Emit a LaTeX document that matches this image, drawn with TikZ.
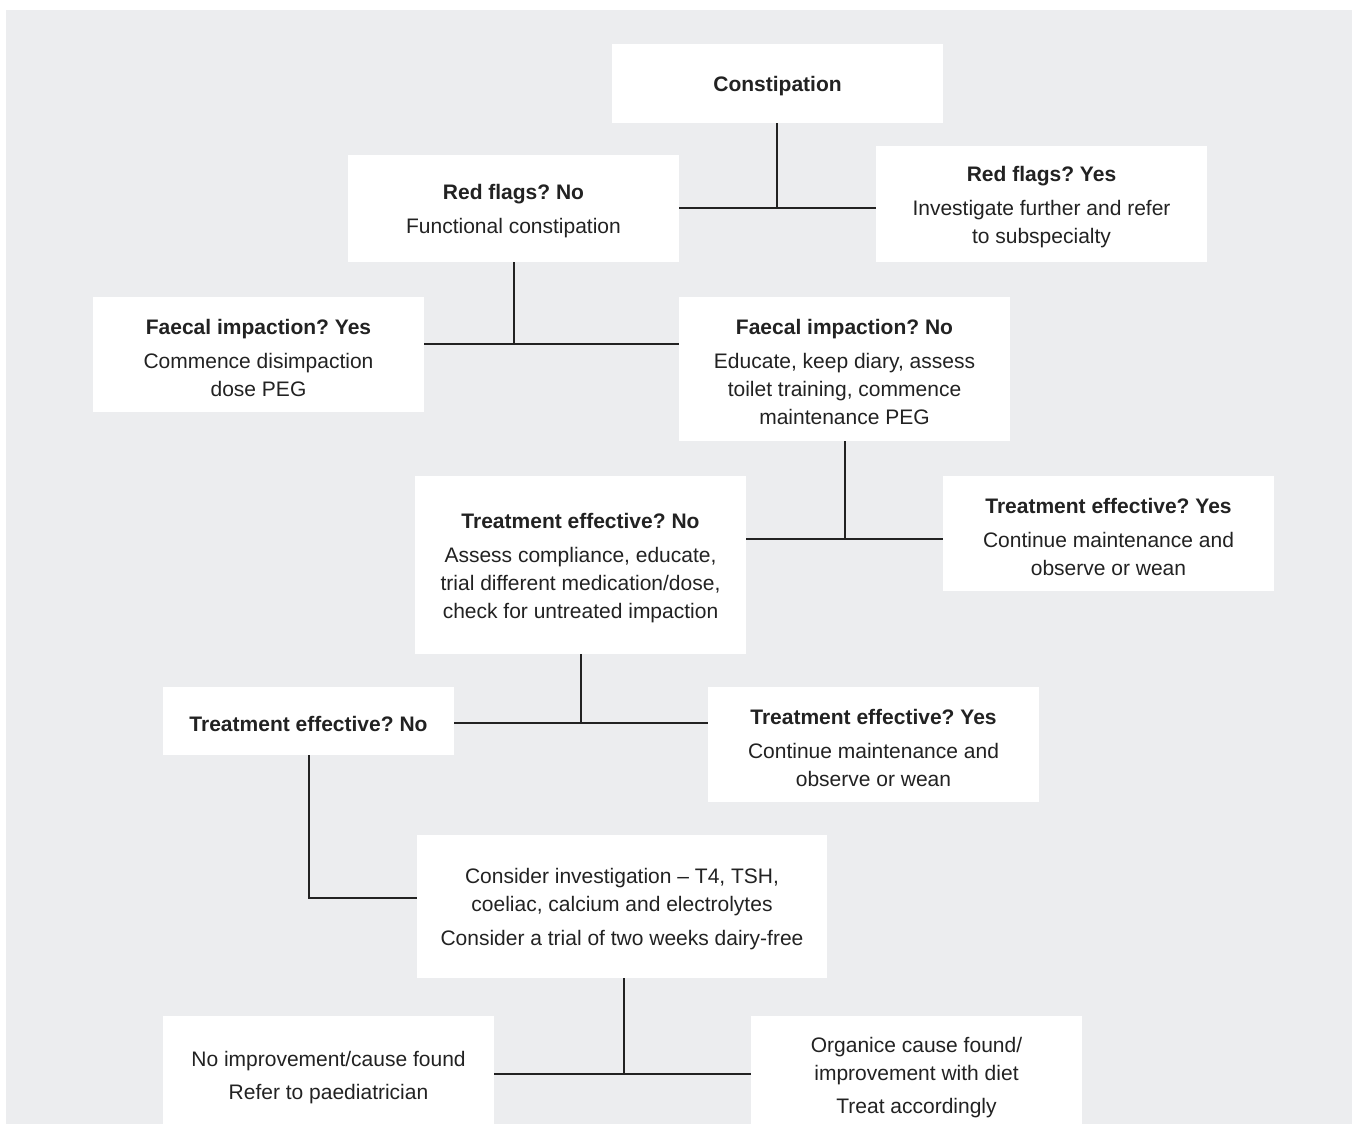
\documentclass[tikz,border=0pt]{standalone}
\usepackage{fontspec}
\setmainfont{Liberation Sans}
\frenchspacing
\definecolor{bggray}{HTML}{ECEDEF}
\definecolor{txt}{HTML}{222222}
\begin{document}
\begin{tikzpicture}[x=1pt,y=-1pt,
  box/.style={fill=white, inner sep=0pt},
  words/.style={inner sep=0pt, align=center, text=txt,
    font=\fontsize{21}{28}\selectfont},
  link/.style={draw=txt, line width=1.3pt}]
\useasboundingbox (0,0) rectangle (1352,1124);
\fill[bggray] (6,10) rectangle (1352,1124);

\node[box, minimum width=331, minimum height=79] (con) at (777.5,83.5) {};
\node[box, minimum width=331, minimum height=107] (rfn) at (513.5,208.5) {};
\node[box, minimum width=331, minimum height=116] (rfy) at (1041.5,204) {};
\node[box, minimum width=331, minimum height=115] (fiy) at (258.5,354.5) {};
\node[box, minimum width=331, minimum height=144] (fin) at (844.5,369) {};
\node[box, minimum width=331, minimum height=178] (ten1) at (580.5,565) {};
\node[box, minimum width=331, minimum height=115] (tey1) at (1108.5,533.5) {};
\node[box, minimum width=291, minimum height=68] (ten2) at (308.5,721) {};
\node[box, minimum width=331, minimum height=115] (tey2) at (873.5,744.5) {};
\node[box, minimum width=410, minimum height=143] (inv) at (622,906.5) {};
\node[box, minimum width=331, minimum height=117] (noi) at (328.5,1074.5) {};
\node[box, minimum width=331, minimum height=117] (org) at (916.5,1074.5) {};

\node[words] (tcon) at ([yshift=-3pt]con.center) {\textbf{Constipation}};
\node[words] (trfn) at ([yshift=-3pt]rfn.center) {\textbf{Red flags? No}\\[6pt]Functional constipation};
\node[words] (trfy) at ([yshift=-3pt]rfy.center) {\textbf{Red flags? Yes}\\[6pt]Investigate further and refer\\to subspecialty};
\node[words] (tfiy) at ([yshift=-3pt]fiy.center) {\textbf{Faecal impaction? Yes}\\[6pt]Commence disimpaction\\dose PEG};
\node[words] (tfin) at ([yshift=-3pt]fin.center) {\textbf{Faecal impaction? No}\\[6pt]Educate, keep diary, assess\\toilet training, commence\\maintenance PEG};
\node[words] (tten1) at ([yshift=-3pt]ten1.center) {\textbf{Treatment effective? No}\\[6pt]Assess compliance, educate,\\trial different medication/dose,\\check for untreated impaction};
\node[words] (ttey1) at ([yshift=-3pt]tey1.center) {\textbf{Treatment effective? Yes}\\[6pt]Continue maintenance and\\observe or wean};
\node[words] (tten2) at ([yshift=-3pt]ten2.center) {\textbf{Treatment effective? No}};
\node[words] (ttey2) at ([yshift=-3pt]tey2.center) {\textbf{Treatment effective? Yes}\\[6pt]Continue maintenance and\\observe or wean};
\node[words] (tinv) at ([yshift=-3pt]inv.center) {Consider investigation -- T4, TSH,\\coeliac, calcium and electrolytes\\[6pt]Consider a trial of two weeks dairy-free};
\node[words] (tnoi) at ([yshift=-3pt]noi.center) {No improvement/cause found\\[5pt]Refer to paediatrician};
\node[words] (torg) at ([yshift=-3pt]org.center) {Organice cause found/\\improvement with diet\\[5pt]Treat accordingly};

\coordinate (j1) at (777,208);
\coordinate (j2) at (514,344);
\coordinate (j3) at (845,539);
\coordinate (j4) at (581,723);
\coordinate (j5) at (624,1074);
\coordinate (j6) at (309,898);

\draw[link] (j1 |- con.south) -- (j1);
\draw[link] (rfn.east |- j1) -- (rfy.west |- j1);
\draw[link] (j2 |- rfn.south) -- (j2);
\draw[link] (fiy.east |- j2) -- (fin.west |- j2);
\draw[link] (j3 |- fin.south) -- (j3);
\draw[link] (ten1.east |- j3) -- (tey1.west |- j3);
\draw[link] (j4 |- ten1.south) -- (j4);
\draw[link] (ten2.east |- j4) -- (tey2.west |- j4);
\draw[link] (j6 |- ten2.south) -- (j6) -- (inv.west |- j6);
\draw[link] (j5 |- inv.south) -- (j5);
\draw[link] (noi.east |- j5) -- (org.west |- j5);
\end{tikzpicture}
\end{document}
